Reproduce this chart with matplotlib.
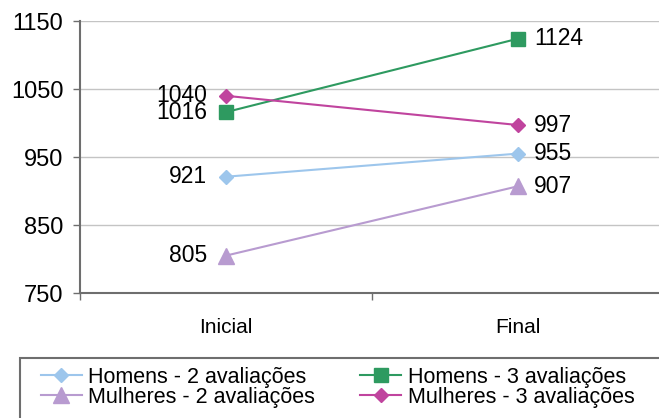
import matplotlib
matplotlib.use("Agg")
import matplotlib.pyplot as plt
from matplotlib.patches import Rectangle

plt.rcParams["font.family"] = ["Liberation Sans", "DejaVu Sans"]

categories = ["Inicial", "Final"]
homens_2 = [921, 955]
homens_3 = [1016, 1124]
mulheres_2 = [805, 907]
mulheres_3 = [1040, 997]
series_names = ["Homens - 2 avaliações", "Homens - 3 avaliações",
                "Mulheres - 2 avaliações", "Mulheres - 3 avaliações"]
y_ticks = [750, 850, 950, 1050, 1150]

W, H = 659, 418
fig = plt.figure(figsize=(W / 100, H / 100), dpi=100)
ax = fig.add_axes([80 / W, 1 - 293 / H, (664 - 80) / W, (293 - 21) / H])

styles = [
    (homens_2, "#9DC6EC", "D", 7.2),
    (homens_3, "#2E9A60", "s", 9.5),
    (mulheres_2, "#B89BD0", "^", 11),
    (mulheres_3, "#C0449E", "D", 7.2),
]

x = list(range(len(categories)))
handles = []
for (vals, color, marker, ms), name in zip(styles, series_names):
    ln, = ax.plot(x, vals, color=color, lw=1.5, marker=marker, ms=ms,
                  markeredgecolor=color, label=name, zorder=3, clip_on=False)
    handles.append(ln)
    ax.annotate(f"{vals[0]}", (x[0], vals[0]), xytext=(-13.5, 0),
                textcoords="offset points", ha="right", va="center",
                fontsize=16.5, color="black")
    ax.annotate(f"{vals[1]}", (x[1], vals[1]), xytext=(11.5, 0),
                textcoords="offset points", ha="left", va="center",
                fontsize=16.5, color="black")

ax.set_xlim(-0.5, 1.5)
ax.set_ylim(750, 1150)
ax.set_yticks(y_ticks)
ax.set_yticklabels([str(v) for v in y_ticks], fontsize=17)
ax.yaxis.grid(True, color="#C4C4C4", lw=1.0)
ax.set_axisbelow(True)

ax.set_xticks(x)
ax.set_xticklabels(categories, fontsize=15)
ax.set_xticks([-0.5, 0.5, 1.5], minor=True)
ax.tick_params(axis="x", which="major", length=0, pad=18)
ax.tick_params(axis="x", which="minor", length=5, width=1, color="#6E6E6E")
ax.tick_params(axis="y", length=5, width=1, color="#6E6E6E", pad=7)

for side in ("top", "right"):
    ax.spines[side].set_visible(False)
for side in ("left", "bottom"):
    ax.spines[side].set_color("#6E6E6E")
    ax.spines[side].set_linewidth(1.5)

# legend frame
fig.add_artist(Rectangle((20 / W, -10 / H), (W + 10 - 20) / W, (418 + 10 - 358) / H,
                         transform=fig.transFigure, fill=False,
                         edgecolor="#6E6E6E", lw=1.5))

order = [0, 2, 1, 3]
leg = fig.legend([handles[i] for i in order], [series_names[i] for i in order],
                 loc="upper left", bbox_to_anchor=(28 / W, 1 - 354 / H),
                 ncol=2, frameon=False, prop={"size": 15.5},
                 handlelength=1.9, handletextpad=0.3, columnspacing=2.1,
                 labelspacing=-0.05, borderpad=0.1)

fig.savefig("out.png", dpi=100)
